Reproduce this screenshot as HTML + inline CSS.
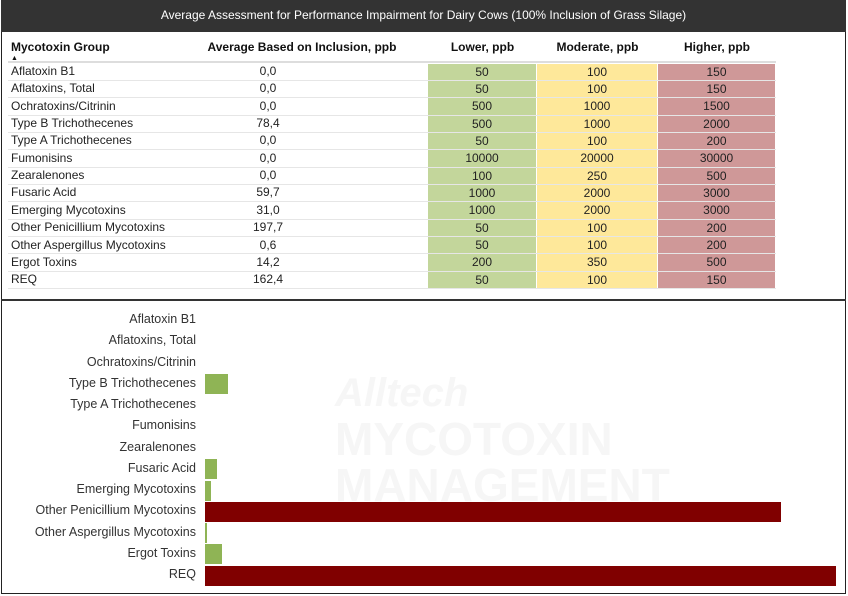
<!DOCTYPE html>
<html><head><meta charset="utf-8"><style>
*{margin:0;padding:0;box-sizing:border-box}
body{width:848px;height:596px;background:#fff;font-family:"Liberation Sans",sans-serif;position:relative;overflow:hidden}
#frame{position:absolute;left:1px;top:0;width:845px;height:594px;border:1.5px solid #222;border-top:none}
#title{position:absolute;left:1px;top:0;width:845px;height:32px;background:#333;color:#fff;font-size:12px;text-align:center;line-height:30px}
.h{position:absolute;top:38px;font-size:12px;font-weight:bold;color:#111;height:24px;line-height:18px}
.c{position:absolute;font-size:12px;color:#222;height:17px;line-height:17px;white-space:nowrap}
.rl{position:absolute;left:8px;width:768px;height:1px;background:#e6e6e6}
#sep{position:absolute;left:1px;top:299px;width:845px;height:2px;background:#333}
.lab{position:absolute;right:652px;font-size:12.5px;color:#333;white-space:nowrap}
#wm{position:absolute;left:335px;top:370px;color:#f6f6f6;font-size:46px;font-weight:bold;line-height:46px}
</style></head><body>
<div id="frame"></div>
<div id="title">Average Assessment for Performance Impairment for Dairy Cows (100% Inclusion of Grass Silage)</div>
<div class="h" style="left:11px">Mycotoxin Group<div style="font-size:7px;line-height:5px">▲</div></div>
<div class="h" style="left:176px;width:252px;text-align:center">Average Based on Inclusion, ppb</div>
<div class="h" style="left:428px;width:109px;text-align:center">Lower, ppb</div>
<div class="h" style="left:537px;width:121px;text-align:center">Moderate, ppb</div>
<div class="h" style="left:658px;width:118px;text-align:center">Higher, ppb</div>
<div style="position:absolute;left:8px;top:61px;width:768px;height:2px;background:#ddd"></div>
<div id="table"></div>
<div id="sep"></div>
<div id="wm"><div style="font-style:italic;font-size:40px">Alltech</div>MYCOTOXIN<br>MANAGEMENT</div>
<div id="chart"></div>
<script>
const groups=["Aflatoxin B1","Aflatoxins, Total","Ochratoxins/Citrinin","Type B Trichothecenes","Type A Trichothecenes","Fumonisins","Zearalenones","Fusaric Acid","Emerging Mycotoxins","Other Penicillium Mycotoxins","Other Aspergillus Mycotoxins","Ergot Toxins","REQ"];
const avgValues=[0,0,0,78.4,0,0,0,59.7,31.0,197.7,0.6,14.2,162.4];
const lowerValues=[50,50,500,500,50,10000,100,1000,1000,50,50,200,50];
const moderateValues=[100,100,1000,1000,100,20000,250,2000,2000,100,100,350,100];
const higherValues=[150,150,1500,2000,200,30000,500,3000,3000,200,200,500,150];
const tbl=document.getElementById('table');
const rowTop=i=>63+i*17.35;
const fmt=v=>v.toFixed(1).replace('.',',');
function cell(x,w,y,txt,bg,align,name){
  const d=document.createElement('div');d.className='c';
  d.style.left=x+'px';d.style.width=w+'px';d.style.top=y+'px';
  d.style.textAlign=align;if(bg)d.style.background=bg;d.textContent=txt;
  
  
  tbl.appendChild(d);
}
groups.forEach((g,i)=>{
  const y=rowTop(i);
  cell(11,165,y,g,null,'left','group-cell');
  cell(176,184,y,fmt(avgValues[i]),null,'center','average-cell');
  cell(428,108,y+0.5,String(lowerValues[i]),'#c3d69b','center','lower-cell');
  cell(537,120,y+0.5,String(moderateValues[i]),'#fee89a','center','moderate-cell');
  cell(658,117,y+0.5,String(higherValues[i]),'#cf9898','center','higher-cell');
  const l=document.createElement('div');l.className='rl';l.style.top=(y+16.8)+'px';
  
  
  tbl.appendChild(l);
});
const ch=document.getElementById('chart');
const x0=205,fullW=583,yb=i=>310+i*21.25;
groups.forEach((g,i)=>{
  const y=yb(i);
  const lb=document.createElement('div');lb.className='lab';lb.style.top=(y+2)+'px';lb.textContent=g;
  
  
  ch.appendChild(lb);
  const w=avgValues[i]/higherValues[i]*fullW;
  if(w>0){
    const b=document.createElement('div');
    b.style.cssText='position:absolute;left:'+x0+'px;top:'+(y+0.5)+'px;height:20px;width:'+Math.max(w,1.2)+'px;background:'+(avgValues[i]>=higherValues[i]*0.9?'#800000':'#8fb455');
    
    
    ch.appendChild(b);
  }
});
</script>
</body></html>
